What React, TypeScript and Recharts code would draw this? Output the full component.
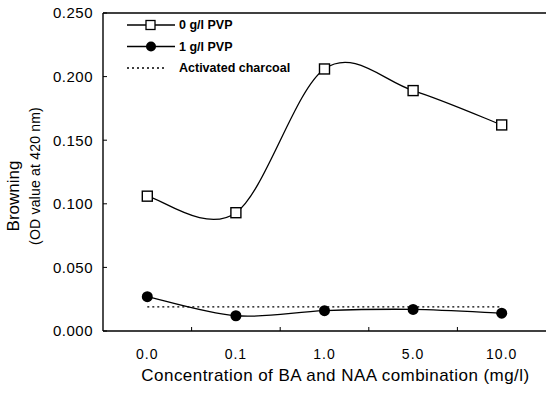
import React from "react";
import {
  LineChart,
  Line,
  XAxis,
  YAxis,
  ReferenceLine,
  Legend,
} from "recharts";

const categories = ["0.0", "0.1", "1.0", "5.0", "10.0"];
const pvp0 = [0.106, 0.093, 0.206, 0.189, 0.162];
const pvp1 = [0.027, 0.012, 0.016, 0.017, 0.014];
const charcoal = [0.019, 0.019, 0.019, 0.019, 0.019];
const yTicks = [0, 0.05, 0.1, 0.15, 0.2, 0.25];

const data = categories.map((cat, i) => ({
  cat,
  pvp0: pvp0[i],
  pvp1: pvp1[i],
  charcoal: charcoal[i],
}));

const FONT = '"Liberation Sans", Arial, sans-serif';

// catmull-rom style curve (the original plot uses a smooth spline through points)
const smoothCurve = (context: any) => {
  let pts: number[][] = [];
  return {
    areaStart() {},
    areaEnd() {},
    lineStart() {
      pts = [];
    },
    point(x: number, y: number) {
      pts.push([+x, +y]);
    },
    lineEnd() {
      if (!pts.length) return;
      context.moveTo(pts[0][0], pts[0][1]);
      for (let i = 0; i < pts.length - 1; i++) {
        const p0 = pts[i - 1] || pts[i];
        const p1 = pts[i];
        const p2 = pts[i + 1];
        const p3 = pts[i + 2] || p2;
        context.bezierCurveTo(
          p1[0] + (p2[0] - p0[0]) / 6,
          p1[1] + (p2[1] - p0[1]) / 6,
          p2[0] - (p3[0] - p1[0]) / 6,
          p2[1] - (p3[1] - p1[1]) / 6,
          p2[0],
          p2[1]
        );
      }
    },
  };
};

const SquareDot = (props: any) => {
  const { cx, cy, index } = props;
  if (cx == null || cy == null) return <g key={`sq-${index}`} />;
  return (
    <rect
      key={`sq-${index}`}
      x={cx - 5}
      y={cy - 5}
      width={10}
      height={10}
      fill="#fff"
      stroke="#000"
      strokeWidth={1.4}
    />
  );
};

const TICK_GAP = 18;

// category label plus a small inward tick at the right edge of each band
const XTick = (props: any) => {
  const { x, y, payload, index, visibleTicksCount, width } = props;
  const half =
    payload && payload.offset > 0
      ? payload.offset
      : width && visibleTicksCount
      ? width / visibleTicksCount / 2
      : 0;
  const axisY = y - TICK_GAP;
  return (
    <g>
      {index < visibleTicksCount - 1 && half > 0 && (
        <line x1={x + half} x2={x + half} y1={axisY} y2={axisY - 4} stroke="#000" strokeWidth={1} />
      )}
      <text
        x={x}
        y={y}
        dy="0.71em"
        textAnchor="middle"
        fontFamily={FONT}
        fontSize={14}
        letterSpacing={1}
        fill="#000"
      >
        {payload.value}
      </text>
    </g>
  );
};

const legendItems = [
  { label: "0 g/l PVP", marker: "square", dash: undefined },
  { label: "1 g/l PVP", marker: "circle", dash: undefined },
  { label: "Activated charcoal", marker: "none", dash: "2 3" },
];

const LegendBox = () => (
  <svg width={190} height={66} style={{ display: "block" }}>
    {legendItems.map((item, i) => {
      const y = 9 + i * 21.5;
      return (
        <g key={item.label}>
          <line
            x1={5}
            x2={item.marker === "none" ? 42 : 53}
            y1={y}
            y2={y}
            stroke="#000"
            strokeWidth={1.3}
            strokeDasharray={item.dash}
          />
          {item.marker === "square" && (
            <rect x={24} y={y - 4.5} width={9} height={9} fill="#fff" stroke="#000" strokeWidth={1.3} />
          )}
          {item.marker === "circle" && <circle cx={29} cy={y} r={5} fill="#000" />}
          <text
            x={57}
            y={y}
            dy="0.35em"
            fontFamily={FONT}
            fontSize={12.5}
            fontWeight="bold"
            fill="#000"
          >
            {item.label}
          </text>
        </g>
      );
    })}
  </svg>
);

const YLabel = (props: any) => {
  const { viewBox } = props;
  const cy = viewBox.y + viewBox.height / 2;
  return (
    <g>
      <text
        x={viewBox.x + 13}
        y={cy + 24}
        transform={`rotate(-90 ${viewBox.x + 13} ${cy + 24})`}
        textAnchor="middle"
        dominantBaseline="central"
        fontFamily={FONT}
        fontSize={17}
        fill="#000"
      >
        Browning
      </text>
      <text
        x={viewBox.x + 35}
        y={cy + 4}
        transform={`rotate(-90 ${viewBox.x + 35} ${cy + 4})`}
        textAnchor="middle"
        dominantBaseline="central"
        fontFamily={FONT}
        fontSize={14}
        letterSpacing={0.2}
        fill="#000"
      >
        (OD value at 420 nm)
      </text>
    </g>
  );
};

const XLabel = (props: any) => {
  const { viewBox } = props;
  const cx = viewBox.x + viewBox.width / 2 + 11;
  return (
    <text
      x={cx}
      y={viewBox.y + viewBox.height - 16}
      textAnchor="middle"
      fontFamily={FONT}
      fontSize={17}
      letterSpacing={0.45}
      fill="#000"
    >
      Concentration of BA and NAA combination (mg/l)
    </text>
  );
};

export default function App() {
  return (
    <div style={{ position: "absolute", left: 0, top: 0, background: "#fff" }}>
      <LineChart
        width={546}
        height={397}
        data={data}
        margin={{ top: 13, right: 0, bottom: 0, left: 0 }}
      >
        <XAxis
          dataKey="cat"
          scale="band"
          height={66}
          tickLine={false}
          tickSize={0}
          tickMargin={TICK_GAP}
          axisLine={{ stroke: "#000", strokeWidth: 1.4 }}
          tick={<XTick />}
          label={<XLabel />}
        />
        <YAxis
          width={103}
          domain={[0, 0.25]}
          ticks={yTicks}
          tickFormatter={(v: number) => v.toFixed(3)}
          tickSize={-4}
          tickMargin={14}
          axisLine={{ stroke: "#000", strokeWidth: 1.4 }}
          tickLine={{ stroke: "#000", strokeWidth: 1 }}
          tick={{ fill: "#000", fontSize: 15, fontFamily: FONT, letterSpacing: 0.5 }}
          label={<YLabel />}
        />
        <ReferenceLine y={0.25} stroke="#000" strokeWidth={1.4} />
        <Legend
          layout="vertical"
          align="center"
          verticalAlign="middle"
          wrapperStyle={{ top: 16, left: 122, width: "auto" }}
          content={() => <LegendBox />}
        />
        <Line
          type="linear"
          dataKey="charcoal"
          stroke="#000"
          strokeWidth={1.2}
          strokeDasharray="2 3"
          dot={false}
          isAnimationActive={false}
        />
        <Line
          type={smoothCurve as any}
          dataKey="pvp1"
          stroke="#000"
          strokeWidth={1.3}
          dot={{ r: 5.5, fill: "#000", stroke: "#000", strokeWidth: 0 }}
          isAnimationActive={false}
        />
        <Line
          type={smoothCurve as any}
          dataKey="pvp0"
          stroke="#000"
          strokeWidth={1.3}
          dot={SquareDot}
          isAnimationActive={false}
        />
      </LineChart>
    </div>
  );
}
